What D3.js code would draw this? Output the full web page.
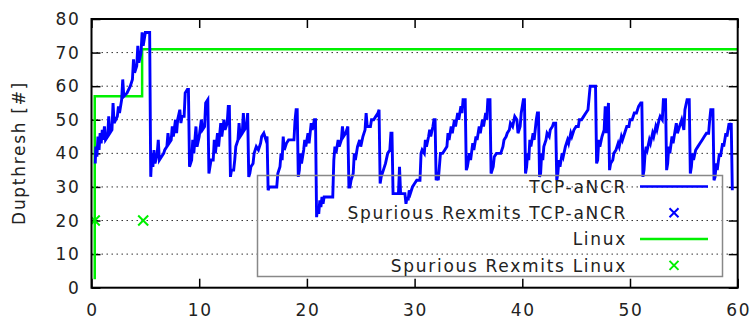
<!DOCTYPE html>
<html>
<head>
<meta charset="utf-8">
<script src="https://cdn.jsdelivr.net/npm/d3@7"></script>
<style>
  body { margin: 0; background: #fff; }
  svg text { font-family: "DejaVu Sans", sans-serif; fill: #222; letter-spacing: 1.7px; }
</style>
</head>
<body>
<div class="container"></div>
<script>
// dupthresh over time, TCP-aNCR vs Linux

const xTicks = [0, 10, 20, 30, 40, 50, 60];
const yTicks = [0, 10, 20, 30, 40, 50, 60, 70, 80];
const legendLabels = ["TCP-aNCR", "Spurious Rexmits TCP-aNCR", "Linux", "Spurious Rexmits Linux"];

// [time s, dupthresh]
const tcpAncr = [
  [0.35,37],[0.4,42],[0.5,39],[0.6,45],[0.7,41],[0.8,46],[0.9,43],[1.0,47],[1.1,44],[1.2,48],[1.3,44],
  [1.5,45],[1.6,51],[1.7,46],[1.9,47],[2.0,55],[2.1,49],[2.4,51],[2.5,54],[2.6,52],[2.8,56],[2.9,62],
  [3.0,57],[3.3,58],[3.6,60],[3.8,62],[3.9,68],[4.0,64],[4.2,66],[4.3,72],[4.4,67],[4.6,70],[4.7,76],
  [4.8,72],[5.0,76],[5.4,76],[5.5,33],
  [5.6,40],[5.7,36],[5.8,41],[5.9,37],[6.1,40],[6.2,44],[6.3,38],[6.5,39],[6.7,40],[6.8,41],[7.0,42],
  [7.1,46],[7.2,43],[7.4,44],[7.5,48],[7.6,45],[7.8,50],[7.9,46],[8.0,50],[8.2,53],[8.3,49],[8.4,51],
  [8.6,51],[8.7,58],[8.9,59],[9.0,59],[9.1,36],
  [9.3,38],[9.4,44],[9.5,40],[9.7,48],[9.8,42],[10.0,45],[10.2,50],[10.3,47],[10.5,48],[10.6,55],
  [10.8,56],[10.9,34],
  [11.0,36],[11.1,38],[11.3,38],[11.4,44],[11.5,40],[11.7,46],[11.8,42],[12.0,49],[12.1,45],[12.3,50],
  [12.4,47],[12.6,49],[12.7,54],[12.8,54],[12.9,33],
  [13.0,35],[13.2,35],[13.3,38],[13.4,42],[13.6,44],[13.7,49],[13.8,45],[14.0,46],[14.1,52],[14.2,47],
  [14.4,48],[14.5,52],[14.6,33],
  [14.7,34],[14.8,36],[15.0,37],[15.1,40],[15.3,42],[15.5,41],[15.7,43],[15.8,45],[16.0,46],[16.2,44],
  [16.3,45],[16.4,29],
  [16.5,30],[17.2,30],[17.3,34],[17.5,36],[17.6,40],[17.7,38],[17.8,45],[17.9,41],[18.1,43],[18.3,44],
  [18.8,44],[18.9,50],[19.0,53],[19.1,53],[19.2,33],
  [19.3,35],[19.4,40],[19.5,37],[19.7,41],[19.8,44],[19.9,42],[20.1,46],[20.2,43],[20.4,49],[20.5,47],
  [20.7,50],[20.8,50],[20.9,21],
  [21.0,24],[21.1,22],[21.2,26],[21.3,24],[21.4,27],[21.5,25],[21.6,27],[22.4,27],[22.5,38],[22.6,42],
  [22.7,40],[22.9,44],[23.0,42],[23.2,44],[23.3,48],[23.4,45],[23.6,46],[23.8,48],[23.9,30],
  [24.0,30],[24.1,32],[24.3,34],[24.4,40],[24.5,38],[24.7,42],[24.9,44],[25.0,42],[25.2,45],[25.4,47],
  [25.5,52],[25.6,48],[25.9,48],[26.0,50],[26.2,50],[26.4,51],[26.6,52],[26.7,53],[26.8,31],
  [26.9,33],[27.1,35],[27.3,37],[27.5,40],[27.7,41],[27.8,46],[27.9,46],[28.0,28],[28.5,28],[28.6,36],
  [28.7,28],[29.1,28],[29.2,25],
  [29.3,27],[29.4,26],[29.5,29],[29.6,28],[29.8,30],[30.0,31],[30.2,32],[30.5,32],[30.6,40],[30.7,41],
  [30.9,40],[31.0,44],[31.1,42],[31.3,45],[31.4,47],[31.5,45],[31.7,48],[31.8,50],[31.9,50],[32.0,32],
  [32.1,33],[32.2,32],[32.4,40],[32.6,40],[32.8,41],[33.0,42],[33.1,46],[33.2,44],[33.4,48],[33.5,46],
  [33.7,50],[33.8,48],[34.0,52],[34.1,50],[34.3,54],[34.4,52],[34.5,56],[34.7,56],[34.8,35],
  [34.9,36],[35.1,40],[35.2,38],[35.4,43],[35.5,41],[35.7,45],[35.8,44],[36.0,48],[36.1,46],[36.3,50],
  [36.4,48],[36.6,52],[36.7,50],[36.8,56],[37.0,56],[37.1,34],
  [37.3,36],[37.4,39],[37.6,40],[38.0,40],[38.2,42],[38.3,44],[38.5,45],[38.6,46],[38.8,47],[38.9,49],
  [39.1,48],[39.3,51],[39.5,50],[39.6,46],[39.8,48],[39.9,52],[40.1,56],[40.2,56],[40.3,34],
  [40.4,36],[40.5,40],[40.6,38],[40.7,44],[40.8,42],[41.0,46],[41.1,44],[41.3,50],[41.4,52],[41.5,52],
  [41.6,33],
  [41.7,34],[41.8,40],[41.9,38],[42.0,42],[42.2,44],[42.3,46],[42.5,45],[42.6,47],[42.8,48],[42.9,49],
  [43.1,49],[43.2,32],
  [43.3,34],[43.4,38],[43.5,36],[43.7,40],[43.8,39],[44.0,42],[44.2,44],[44.3,43],[44.5,46],[44.6,45],
  [44.8,47],[45.0,48],[45.2,48],[45.3,50],[45.5,50],[45.7,51],[45.9,52],[46.1,53],[46.3,60],[46.8,60],
  [46.9,37],
  [47.0,38],[47.1,44],[47.2,42],[47.4,45],[47.6,47],[47.7,54],[47.8,46],[48.0,55],[48.1,35],
  [48.2,37],[48.4,38],[48.5,40],[48.7,41],[48.9,43],[49.0,42],[49.2,45],[49.3,44],[49.5,46],[49.7,48],
  [49.9,48],[50.0,50],[50.2,50],[50.4,52],[50.6,52],[50.8,54],[51.0,55],[51.1,55],[51.2,33],
  [51.3,35],[51.4,40],[51.5,42],[51.6,41],[51.8,44],[51.9,43],[52.1,46],[52.2,45],[52.4,48],[52.5,47],
  [52.7,50],[52.8,51],[53.0,50],[53.1,56],[53.3,56],[53.4,35],
  [53.5,37],[53.6,42],[53.7,40],[53.9,45],[54.0,43],[54.2,47],[54.3,49],[54.4,46],[54.6,48],[54.8,50],
  [55.0,47],[55.1,53],[55.3,56],[55.5,56],[55.6,34],
  [55.7,36],[55.8,40],[55.9,38],[56.1,41],[56.3,42],[56.5,43],[56.7,44],[56.9,45],[57.1,46],[57.3,46],
  [57.4,50],[57.5,53],[57.7,53],[57.8,32],
  [57.9,33],[58.0,37],[58.1,35],[58.3,40],[58.4,39],[58.6,43],[58.7,42],[58.9,46],[59.0,45],[59.2,49],
  [59.3,48],[59.4,49],[59.5,29]
];

const linux = [[0.3,2.5],[0.3,57],[4.7,57],[4.7,71],[60,71]];

const rexmitsAncr = [];
const rexmitsLinux = [[0.3,20],[4.8,20]];

const blue = "#0000ff";
const green = "#00f000";

const w = 750, h = 323;
const margin = { top: 19, right: 12.3, bottom: 35.3, left: 91.5 };

const xScale = d3.scaleLinear().domain([0, 60]).range([margin.left, w - margin.right]);
const yScale = d3.scaleLinear().domain([0, 80]).range([h - margin.bottom, margin.top]);

const svg = d3.select(".container").append("svg")
  .attr("width", w).attr("height", h)
  .attr("viewBox", [0, 0, w, h]);

svg.append("clipPath").attr("id", "plotclip")
  .append("rect")
  .attr("x", margin.left).attr("y", margin.top)
  .attr("width", w - margin.left - margin.right)
  .attr("height", h - margin.top - margin.bottom);

// dotted grid
svg.append("g")
  .selectAll("line")
  .data(yTicks.filter((d) => d > 0 && d < 80))
  .join("line")
  .attr("x1", margin.left).attr("x2", w - margin.right)
  .attr("y1", (d) => yScale(d)).attr("y2", (d) => yScale(d))
  .attr("stroke", "#333").attr("stroke-width", 1)
  .attr("stroke-dasharray", "1.5,3.5");

// inward ticks, mirrored like gnuplot
const tickLen = 9;
const tk = svg.append("g");
tk.append("g").call(d3.axisLeft(yScale).tickValues(yTicks).tickSize(-tickLen).tickFormat(""))
  .attr("transform", `translate(${margin.left},0)`);
tk.append("g").call(d3.axisRight(yScale).tickValues(yTicks).tickSize(-tickLen).tickFormat(""))
  .attr("transform", `translate(${w - margin.right},0)`);
tk.append("g").call(d3.axisBottom(xScale).tickValues(xTicks).tickSize(-tickLen).tickFormat(""))
  .attr("transform", `translate(0,${h - margin.bottom})`);
tk.append("g").call(d3.axisTop(xScale).tickValues(xTicks).tickSize(-tickLen).tickFormat(""))
  .attr("transform", `translate(0,${margin.top})`);
tk.selectAll(".domain").remove();
tk.selectAll("line").attr("stroke", "#000").attr("stroke-width", 1.5);

// tick labels
svg.append("g")
  .selectAll("text")
  .data(yTicks)
  .join("text")
  .attr("x", margin.left - 11)
  .attr("y", (d) => yScale(d))
  .attr("dy", "0.36em")
  .attr("text-anchor", "end")
  .attr("font-size", "17px")
  .text((d) => d);

svg.append("g")
  .selectAll("text")
  .data(xTicks)
  .join("text")
  .attr("x", (d) => xScale(d) + 1)
  .attr("y", 316)
  .attr("text-anchor", "middle")
  .attr("font-size", "17px")
  .text((d) => d);

svg.append("text")
  .attr("transform", `translate(25,153) rotate(-90)`)
  .attr("text-anchor", "middle")
  .attr("font-size", "17px")
  .text("Dupthresh [#]");

// series
const plot = svg.append("g").attr("clip-path", "url(#plotclip)");
const line = d3.line().x((d) => xScale(d[0])).y((d) => yScale(d[1]));

plot.append("path")
  .datum(linux)
  .attr("d", line)
  .attr("fill", "none")
  .attr("stroke", green)
  .attr("stroke-width", 2.5);

plot.append("path")
  .datum(tcpAncr)
  .attr("d", line)
  .attr("fill", "none")
  .attr("stroke", blue)
  .attr("stroke-width", 2.9)
  .attr("stroke-linejoin", "miter");

const cross = (g, pts, color) => {
  g.selectAll(null)
    .data(pts)
    .join("path")
    .attr("d", (d) => {
      const x = xScale(d[0]), y = yScale(d[1]), s = 5;
      return `M${x - s},${y - s}L${x + s},${y + s}M${x - s},${y + s}L${x + s},${y - s}`;
    })
    .attr("stroke", color)
    .attr("stroke-width", 2);
};
cross(plot, rexmitsAncr, blue);
cross(plot, rexmitsLinux, green);

// legend (transparent box, gnuplot style)
const lg = svg.append("g");
lg.append("rect")
  .attr("x", 257.5).attr("y", 175.5)
  .attr("width", 465).attr("height", 101)
  .attr("fill", "none")
  .attr("stroke", "#888").attr("stroke-width", 1.5);

const legendColors = [blue, blue, green, green];
const legendY = (i) => 186.5 + i * 26.3;
legendLabels.forEach((label, i) => {
  lg.append("text")
    .attr("x", 627)
    .attr("y", legendY(i))
    .attr("dy", "0.36em")
    .attr("text-anchor", "end")
    .attr("font-size", "17px")
    .text(label);
  if (i % 2 === 0) {
    lg.append("line")
      .attr("x1", 640).attr("x2", 708)
      .attr("y1", legendY(i)).attr("y2", legendY(i))
      .attr("stroke", legendColors[i]).attr("stroke-width", 2.5);
  } else {
    const x = 674, y = legendY(i), s = 4.5;
    lg.append("path")
      .attr("d", `M${x - s},${y - s}L${x + s},${y + s}M${x - s},${y + s}L${x + s},${y - s}`)
      .attr("stroke", legendColors[i]).attr("stroke-width", 2);
  }
});

// frame
svg.append("rect")
  .attr("x", margin.left).attr("y", margin.top)
  .attr("width", w - margin.left - margin.right)
  .attr("height", h - margin.top - margin.bottom)
  .attr("fill", "none")
  .attr("stroke", "#000").attr("stroke-width", 2);
</script>
</body>
</html>
